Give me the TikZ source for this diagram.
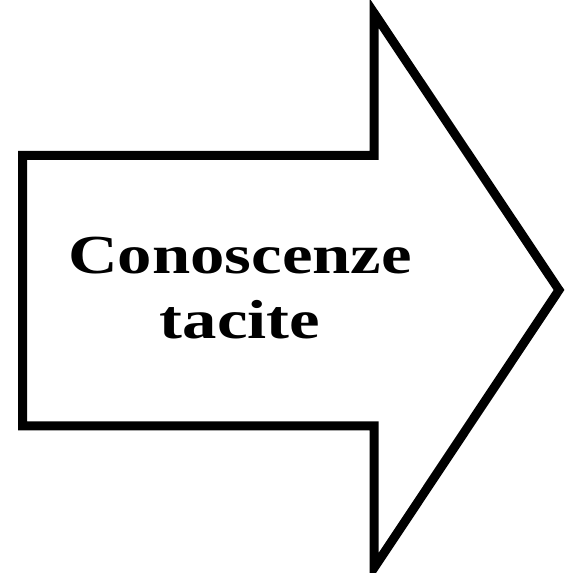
\documentclass[tikz,border=0pt]{standalone}
\usepackage{fontspec}
\usepackage{tikz}
\newfontfamily\labelfont{Liberation Serif}
\tikzset{
  bigarrow/.style={draw=black, fill=white, line width=9pt, line join=miter},
  arrowtext/.style={font=\labelfont\fontsize{55}{65}\selectfont\bfseries, align=center,
    inner sep=0pt, xscale=1.25, transform shape}
}
\begin{document}
\begin{tikzpicture}[x=1pt, y=1pt]
  \useasboundingbox (0,0) rectangle (565,573);
  % Arrow outline
  \draw[bigarrow] (22.5,147) -- (22.5,417.5) -- (374,417.5) -- (374,560)
    -- (559,283) -- (374,5) -- (374,147) -- cycle;
  % Label
  \node[arrowtext] (label) at (240,285) {Conoscenze\\tacite};
\end{tikzpicture}
\end{document}
